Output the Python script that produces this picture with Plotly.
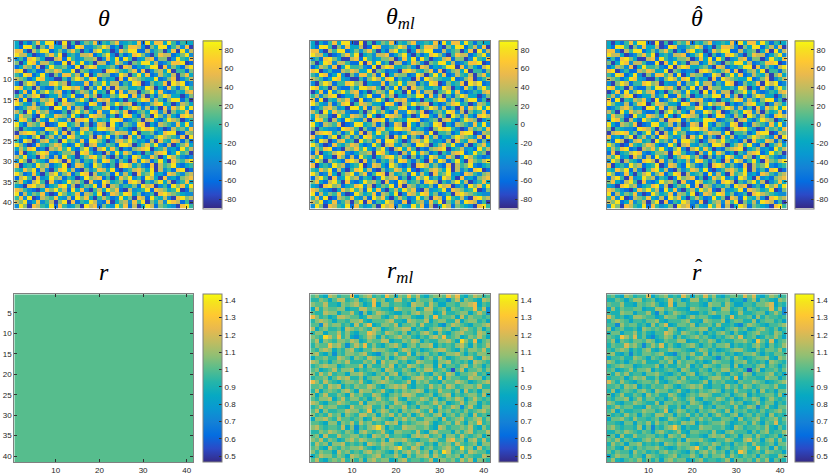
import plotly.graph_objects as go

# colour level read for every cell, one string per image row (row 1 at top)
# theta: code 0..8 -> -80 .. 80
theta_rows = [
    "30314 73881 08040 35471 43572 34371 83773 84143 3",
    "31884 05273 36018 72245 86130 47762 05388 14627 0",
    "77206 48813 52574 03168 34027 58811 62450 37082 6",
    "86630 12574 80342 66713 58204 13785 20476 61358 2",
    "24178 53006 71842 35560 27381 84023 67155 02843 7",
    "50387 26641 18073 82406 61375 20548 83612 47780 1",
    "13652 70384 45218 06873 34520 76132 48807 25316 8",
    "78024 11657 63380 54122 07864 35717 02563 80441 5",
    "42871 38205 27746 18036 55128 60483 71264 36057 3",
    "65413 87320 04158 63781 42307 18654 33812 57024 6",
    "20586 14478 56032 27154 83661 42870 15347 08681 2",
    "87340 62115 38867 40528 16075 53342 86031 74158 4",
    "03718 25846 71304 65283 40817 26604 58372 12436 7",
    "46257 80133 62481 17460 32548 81726 04158 63302 5",
    "71804 36572 08125 84037 67213 04358 72641 58814 0",
    "85326 14780 47653 31872 06485 67031 25783 40265 3",
    "12467 52308 83716 50244 78130 35862 61407 27583 8",
    "64083 75621 14058 46317 22864 70145 38726 05347 1",
    "37551 08437 65283 02876 51402 87316 40852 63178 6",
    "28740 63185 32607 78153 43887 12450 67314 86502 4",
    "83165 47012 88346 15027 60831 54287 03165 42738 2",
    "50432 21876 40521 67348 86724 31058 78420 16453 7",
    "06787 35148 27063 84512 13576 62804 45137 88016 5",
    "72315 80462 51874 23607 48152 07361 32586 54270 8",
    "41860 26734 08452 71885 30267 58423 16074 37615 1",
    "85201 74357 63128 40673 25418 86035 74821 60357 3",
    "36478 12065 74831 58206 83740 21567 80346 23184 6",
    "17034 68721 35560 87412 06283 75130 42678 13845 0",
    "64823 07516 18430 35784 62051 41863 27503 86421 2",
    "28506 43178 60725 14362 87415 30728 61483 07546 8",
    "70342 85613 48027 63185 21407 86352 17064 58213 4",
    "43758 16204 78361 05247 63810 24675 38062 41780 1",
    "85127 30468 25714 87063 45182 63074 58231 76425 6",
    "16840 72385 61430 28567 14037 58241 86307 23156 7",
    "57316 84072 13856 40721 86345 17860 42583 60247 3",
    "32078 56134 78260 35481 70652 43518 67024 18573 8",
    "76421 03758 46183 72046 38571 06234 81765 34801 5",
    "81635 47201 85347 16538 02764 87351 24078 65432 2",
    "47280 16547 32618 57304 64128 35076 18436 20785 6",
    "65813 72460 58071 43862 17035 62748 05362 87614 0",
    "28507 64381 74235 08671 53284 71603 86154 32078 4",
]
theta_levels = [-80, -60, -40, -20, 0, 20, 40, 60, 80]

# r_ml / r_hat: code 0 navy .. 8 yellow
r_ml_rows = [
    "45326 53447 24563 43752 54746 32455 47573 24653 4",
    "33542 46634 52347 45236 63425 44523 31462 54326 5",
    "54463 32545 64237 25534 43265 53642 24435 56724 3",
    "26354 45523 36645 43326 54452 36634 52543 44736 1",
    "43365 52446 31524 65432 24356 45523 63345 52464 1",
    "75342 36654 42365 53246 45532 25373 44526 35443 4",
    "35654 24435 56324 44563 32654 46245 53362 45534 2",
    "44164 55342 63572 35546 24453 63342 14654 32445 6",
    "62453 34265 45436 52345 56624 32456 45235 64352 4",
    "35524 46353 24476 43654 35243 56425 32456 44365 3",
    "54386 47352 13465 25345 64532 43564 73452 35464 2",
    "46254 35546 52354 46623 35465 24335 56428 53724 5",
    "35447 56414 64735 32456 42453 55624 34356 42534 6",
    "43565 24356 32446 55432 46534 23456 64325 35546 3",
    "56324 14355 45632 14546 33625 45342 35564 24355 4",
    "24453 36542 54365 43524 56443 14536 42345 56326 5",
    "65342 45463 33546 26455 34236 54425 56343 42654 3",
    "34565 52344 46253 35462 43654 35526 24435 63542 4",
    "45234 63556 24345 42653 35425 46634 53046 24453 5",
    "53646 34425 56432 45356 24543 53254 36524 45634 2",
    "34452 46563 35245 53634 42356 64537 25443 36552 4",
    "75364 32455 46324 56543 34625 45332 54465 42345 6",
    "44536 56243 54465 32456 56324 43645 36534 55463 3",
    "36245 43564 26553 46324 35456 52436 44352 63425 5",
    "52463 35426 45336 53245 46653 34524 56243 45536 2",
    "43556 24635 53424 64356 32544 65352 35465 24643 4",
    "65324 46543 36255 45436 54235 43464 52346 35524 3",
    "34645 53326 44563 35254 46342 55436 34651 46325 5",
    "46253 34465 53472 46534 25456 43625 45343 53456 4",
    "53436 45254 36645 25463 53524 64356 24535 42634 3",
    "25564 36443 45236 54325 46453 35542 63456 34563 5",
    "44325 52546 36453 43656 24345 56423 45364 25473 4",
    "56434 43625 14356 85243 36554 45326 53445 46325 3",
    "33546 54354 25643 46325 54436 32564 44253 56344 6",
    "45263 36445 53426 54634 43256 56345 25536 43452 4",
    "54635 42356 46544 35265 56432 44653 36745 25636 3",
    "36452 55634 34265 46553 24546 53425 45364 34525 5",
    "45326 43545 56432 35456 84365 24534 56438 45263 4",
    "53544 26453 43564 54325 35646 45253 86345 36544 2",
    "24655 35426 54345 63446 42535 56364 35452 54336 5",
    "46324 54635 35256 45523 56344 34625 54536 46254 3",
]
r_ml_levels = [0.55, 0.75, 0.85, 0.93, 1.0, 1.07, 1.15, 1.25, 1.35]
# r_hat shows the same cells, a little bluer / flatter
r_hat_levels = [0.55, 0.72, 0.83, 0.9, 0.97, 1.03, 1.1, 1.2, 1.28]
r_true = 1.0

theta_ticks = [-80, -60, -40, -20, 0, 20, 40, 60, 80]
r_ticks = [0.5, 0.6, 0.7, 0.8, 0.9, 1.0, 1.1, 1.2, 1.3, 1.4]
r_ticktext = ["0.5", "0.6", "0.7", "0.8", "0.9", "1", "1.1", "1.2", "1.3", "1.4"]

N = 41


def decode(rows, levels):
    out = []
    for row in rows:
        s = row.replace(" ", "")
        assert len(s) == N, row
        out.append([levels[int(c)] for c in s])
    return out


theta = decode(theta_rows, theta_levels)
r_ml = decode(r_ml_rows, r_ml_levels)
r_hat = decode(r_ml_rows, r_hat_levels)
r = [[r_true] * N for _ in range(N)]

parula = [
    [0 / 63, "#352a87"], [5 / 63, "#2b4ac7"], [10 / 63, "#046de0"],
    [15 / 63, "#1481d6"], [20 / 63, "#0998d1"], [25 / 63, "#07a9c2"],
    [30 / 63, "#25b5a9"], [35 / 63, "#59bd8c"], [40 / 63, "#92bf73"],
    [45 / 63, "#c0bc60"], [50 / 63, "#e9b94e"], [55 / 63, "#fec832"],
    [60 / 63, "#f5e41d"], [63 / 63, "#f9fb0e"],
]

W, H = 830, 476
col_x = [(14.3, 193.3), (310.3, 490.3), (606.7, 786.7)]
cbar_x = [202.7, 499.0, 795.3]
row_y = [(40.5, 208.5), (294.3, 462.3)]

# (data, title, hat, zmin, zmax, row, col)
panels = [
    (theta, "<i>θ</i>", False, -90, 90, 0, 0),
    (theta, "<i>θ</i><sub><i>ml</i></sub>", False, -90, 90, 0, 1),
    (theta, "<i>θ</i>", True, -90, 90, 0, 2),
    (r, "<i>r</i>", False, 0.465, 1.435, 1, 0),
    (r_ml, "<i>r</i><sub><i>ml</i></sub>", False, 0.465, 1.435, 1, 1),
    (r_hat, "<i>r</i>", True, 0.465, 1.435, 1, 2),
]

axcol = "#808080"
tickfont = dict(family="Liberation Sans", size=8, color="#262626")
titlefont = dict(family="Liberation Serif", size=24, color="#000000")

fig = go.Figure()
annotations = []
for i, (z, title, hat, zmin, zmax, row, col) in enumerate(panels):
    n = "" if i == 0 else str(i + 1)
    x0, x1 = col_x[col]
    y0, y1 = row_y[row]
    if row == 0:
        cb = dict(tickvals=theta_ticks, ticktext=[str(t) for t in theta_ticks])
    else:
        cb = dict(tickvals=r_ticks, ticktext=r_ticktext)
    cb.update(
        x=cbar_x[col] / W, xanchor="left", xpad=0,
        y=1 - y1 / H, yanchor="bottom", ypad=0,
        len=(y1 - y0) / H, lenmode="fraction",
        thickness=18.5, thicknessmode="pixels",
        outlinecolor=axcol, outlinewidth=1,
        ticks="inside", ticklen=3, tickcolor="#333333",
        tickfont=tickfont,
    )
    fig.add_trace(go.Heatmap(
        z=z, x=list(range(1, N + 1)), y=list(range(1, N + 1)),
        colorscale=parula, zmin=zmin, zmax=zmax, colorbar=cb,
        xaxis="x" + n, yaxis="y" + n, hoverinfo="skip",
    ))
    fig.layout["xaxis" + n] = dict(
        domain=[x0 / W, x1 / W], range=[0.5, N + 0.5], anchor="y" + n,
        tickvals=[10, 20, 30, 40], showticklabels=(row == 1),
        ticks="inside", ticklen=3, tickcolor="#333333", mirror="ticks",
        showline=True, linecolor=axcol, linewidth=1, showgrid=False,
        zeroline=False, tickfont=tickfont,
    )
    fig.layout["yaxis" + n] = dict(
        domain=[1 - y1 / H, 1 - y0 / H], range=[N + 0.5, 0.5], anchor="x" + n,
        tickvals=[5, 10, 15, 20, 25, 30, 35, 40], showticklabels=(col == 0),
        ticks="inside", ticklen=3, tickcolor="#333333", mirror="ticks",
        showline=True, linecolor=axcol, linewidth=1, showgrid=False,
        zeroline=False, tickfont=tickfont,
    )
    xc = (x0 + x1) / 2
    annotations.append(dict(
        text=title, x=xc / W, y=1 - (y0 - 22) / H,
        xref="paper", yref="paper", showarrow=False,
        xanchor="center", yanchor="middle", font=titlefont,
    ))
    if hat:
        hy = y0 - 27 if row == 0 else y0 - 28
        annotations.append(dict(
            text="ˆ", x=(xc + 2) / W, y=1 - hy / H,
            xref="paper", yref="paper", showarrow=False,
            xanchor="center", yanchor="middle",
            font=dict(family="Liberation Serif", size=22, color="#000000"),
        ))

fig.update_layout(
    width=W, height=H,
    margin=dict(l=0, r=0, t=0, b=0, autoexpand=False),
    paper_bgcolor="white", plot_bgcolor="white",
    annotations=annotations, showlegend=False,
)

fig.write_html("out.html", config={"displayModeBar": False},
               post_script="document.body.style.margin='0';")
